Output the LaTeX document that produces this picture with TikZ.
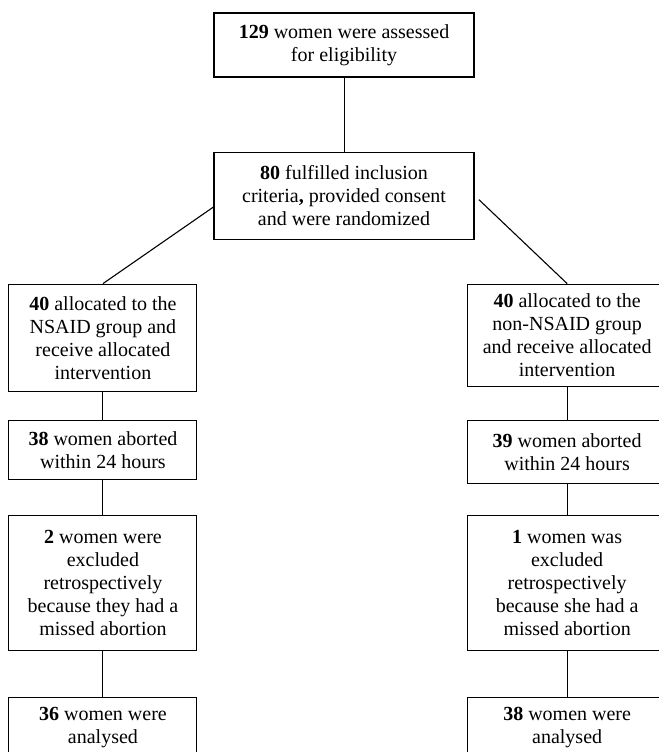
\documentclass[tikz,border=0pt]{standalone}
\usepackage{fontspec}
\setmainfont{Liberation Serif}
\begin{document}
\begin{tikzpicture}[ampersand replacement=\&,
    box/.style 2 args={draw, line width=0.55pt, align=center, inner sep=2pt,
      minimum width=#1, minimum height=#2, font=\fontsize{10}{11.5}\selectfont},
    link/.style={-, line width=0.55pt}]
    \useasboundingbox (0,0) rectangle (329.5pt,-376pt);
    \matrix[anchor=north west, inner sep=0pt] at (4pt,-6pt)
    {
    \& [8pt] \node[box={130pt}{32pt}](top){\textbf{129} women were assessed\\for eligibility}; \& [-4pt] \\[37pt]
    \& [8pt] \node[box={130pt}{43.5pt}](rand){\textbf{80} fulfilled inclusion\\criteria\textbf{,} provided consent\\and were randomized}; \& [-4pt] \\[22pt]
    \node[box={94pt}{53.5pt}](nsaid){\textbf{40} allocated to the\\NSAID group and\\receive allocated\\intervention}; \& [8pt] \& [-4pt]
    \node[box={100pt}{51pt}](non){\textbf{40} allocated to the\\non-NSAID group\\and receive allocated\\intervention}; \\[14pt]
    \node[box={94pt}{29.5pt}](abortL){\textbf{38} women aborted\\within 24 hours}; \& [8pt] \& [-4pt]
    \node[box={100pt}{31.5pt}](abortR){\textbf{39} women aborted\\within 24 hours}; \\[15.5pt]
    \node[box={94pt}{67.5pt}](exclL){\textbf{2} women were\\excluded\\retrospectively\\because they had a\\missed abortion}; \& [8pt] \& [-4pt]
    \node[box={100pt}{67.5pt}](exclR){\textbf{1} women was\\excluded\\retrospectively\\because she had a\\missed abortion}; \\[23pt]
    \node[box={94pt}{30pt}](anaL){\textbf{36} women were\\analysed}; \& [8pt] \& [-4pt]
    \node[box={100pt}{30pt}](anaR){\textbf{38} women were\\analysed}; \\
    };
    \draw [link] (top) -- (rand) ;
    \draw [link] (rand.185) -- (nsaid.north) ;
    \draw [link, shorten <=3pt] (rand.east) -- (non.north) ;
    \draw [link] (nsaid) -- (abortL) ;
    \draw [link] (abortL) -- (exclL) ;
    \draw [link] (exclL) -- (anaL) ;
    \draw [link] (non) -- (abortR) ;
    \draw [link] (abortR) -- (exclR) ;
    \draw [link] (exclR) -- (anaR) ;
    \end{tikzpicture}
\end{document}
